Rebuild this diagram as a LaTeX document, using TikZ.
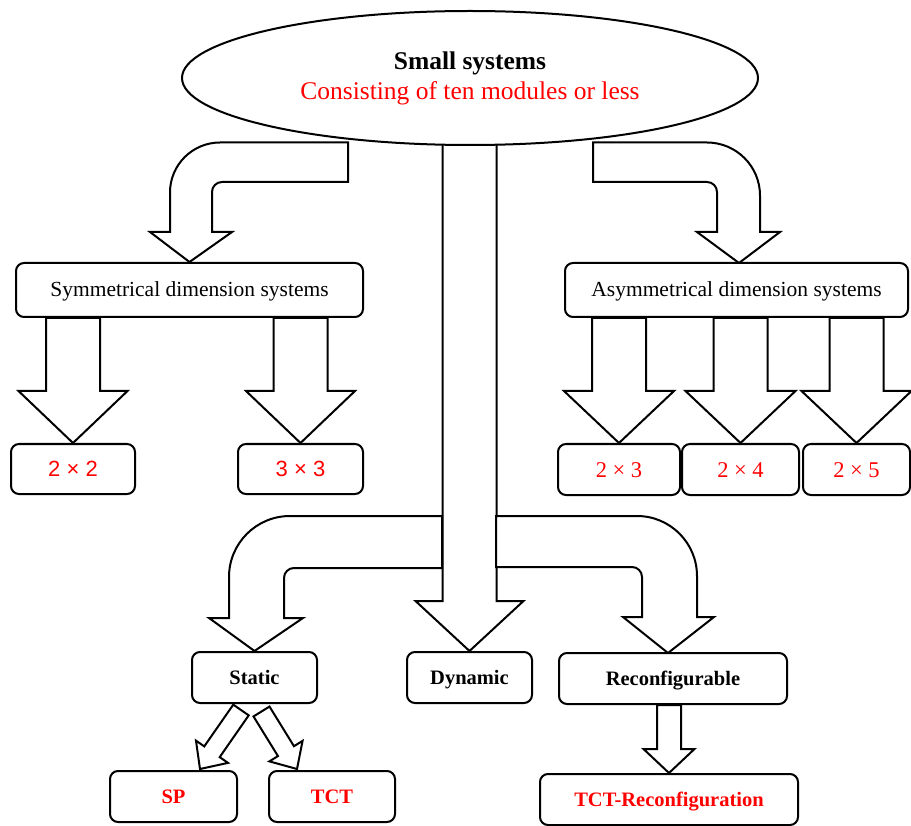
\documentclass[tikz,border=0pt]{standalone}
\usepackage{fontspec}
\setmainfont{Liberation Serif}
\setsansfont{Liberation Sans}
\usetikzlibrary{shapes.geometric,calc,backgrounds}
\definecolor{myred}{RGB}{255,0,0}
\tikzset{
  box/.style={draw, line width=2pt, rounded corners=8pt, fill=white, inner sep=0pt, align=center},
  farrow/.style={draw, line width=2pt, fill=white, line join=miter},
  ellnode/.style={draw, ellipse, line width=2pt, fill=white, inner sep=0pt, align=center,
    minimum width=576pt, minimum height=134pt},
  lblreg/.style={font=\fontsize{21.5}{26}\selectfont, text height=14pt, text depth=0pt},
  lblbold/.style={font=\fontsize{20.5}{25}\selectfont\bfseries, text height=14pt, text depth=0pt},
  lblred/.style={font=\fontsize{22.5}{27}\selectfont, text=myred, text height=15pt, text depth=0pt},
  lblredbold/.style={font=\fontsize{20.5}{25}\selectfont\bfseries, text=myred, text height=14pt, text depth=0pt},
}
\newcommand\fatarrow[5]{% start, tip, half shaft, half head, head length
  \path (#1) coordinate (fas);
  \path (#2) coordinate (fat);
  \path ($(fat)!#5!(fas)$) coordinate (fab);
  \draw[farrow] ($(fas)!#3!90:(fat)$) -- ($(fab)!#3!90:(fat)$) -- ($(fab)!#4!90:(fat)$)
    -- (fat) -- ($(fab)!#4!-90:(fat)$) -- ($(fab)!#3!-90:(fat)$) -- ($(fas)!#3!-90:(fat)$) -- cycle;}
\begin{document}
\begin{tikzpicture}[x=1pt, y=-1pt]
\useasboundingbox (0,0) rectangle (911,826);

% top ellipse
\node[ellnode, font=\fontsize{25.5}{30}\selectfont] (ell) at (470,78)
  {\textbf{Small systems}\\\textcolor{myred}{Consisting of ten modules or less}};

% second row
\node[box, lblreg, minimum width=347pt, minimum height=54pt] (sym) at (189.5,290) {Symmetrical dimension systems};
\node[box, lblreg, minimum width=343pt, minimum height=54pt] (asym) at (736.5,290) {Asymmetrical dimension systems};

% third row
\node[box, lblred, font=\fontsize{22}{26}\selectfont\sffamily, minimum width=124pt, minimum height=50pt] (b22) at (73,469) {2 × 2};
\node[box, lblred, font=\fontsize{22}{26}\selectfont\sffamily, minimum width=125pt, minimum height=50pt] (b33) at (300.5,469) {3 × 3};
\node[box, lblred, minimum width=122pt, minimum height=51pt] (b23) at (619,469.5) {2 × 3};
\node[box, lblred, minimum width=117pt, minimum height=51pt] (b24) at (740.5,469.5) {2 × 4};
\node[box, lblred, minimum width=107pt, minimum height=51pt] (b25) at (856.5,469.5) {2 × 5};

% fourth row
\node[box, lblbold, minimum width=125pt, minimum height=51pt] (static) at (254.5,677.5) {Static};
\node[box, lblbold, minimum width=125pt, minimum height=51pt] (dynamic) at (469.5,677.5) {Dynamic};
\node[box, lblbold, minimum width=228pt, minimum height=51pt] (reconf) at (673,678.5) {Reconfigurable};

% bottom row
\node[box, lblredbold, minimum width=127pt, minimum height=51pt] (sp) at (173.5,796.5) {SP};
\node[box, lblredbold, minimum width=126pt, minimum height=51pt] (tct) at (332,796.5) {TCT};
\node[box, lblredbold, minimum width=258pt, minimum height=51pt] (tctr) at (669,799.5) {TCT-Reconfiguration};

\begin{pgfonlayer}{background}
% central arrow
\fatarrow{dynamic.north |- ell.center}{dynamic.north}{27pt}{54pt}{50pt}
% branch to Static
\draw[farrow] (442,516) -- (290,516) arc[start angle=90, end angle=180, radius=61pt]
  -- (229,618) -- (209,618) -- (static.north) -- (303,618) -- (284,618) -- (284,578)
  arc[start angle=180, end angle=90, radius=10pt] -- (442,568) -- cycle;
% branch to Reconfigurable
\draw[farrow] (496,516) -- (637,516) arc[start angle=90, end angle=0, radius=60pt]
  -- (697,617) -- (714,617) -- (668,653) -- (623,617) -- (642,617) -- (642,577)
  arc[start angle=0, end angle=90, radius=10pt] -- (496,567) -- cycle;
% top-left curved arrow
\draw[farrow] (348,142.5) -- (220,142.5) arc[start angle=90, end angle=180, radius=50pt]
  -- (170,232) -- (150,232) -- (sym.north) -- (232,232) -- (212,232) -- (212,192)
  arc[start angle=180, end angle=90, radius=10pt] -- (348,182) -- cycle;
% top-right curved arrow
\draw[farrow] (593,142.5) -- (707,142.5) arc[start angle=90, end angle=0, radius=53pt]
  -- (760,232) -- (780,232) -- (739,263) -- (697,232) -- (717,232) -- (717,192)
  arc[start angle=0, end angle=90, radius=10pt] -- (593,182) -- cycle;
% symmetrical arrows
\fatarrow{b22.north |- sym.south}{b22.north}{27pt}{54.5pt}{52pt}
\fatarrow{b33.north |- sym.south}{b33.north}{27pt}{54.5pt}{52pt}
% asymmetrical arrows
\fatarrow{b23.north |- asym.south}{b23.north}{27pt}{55pt}{52pt}
\fatarrow{b24.north |- asym.south}{b24.north}{27pt}{55pt}{52pt}
\fatarrow{b25.north |- asym.south}{b25.north}{27pt}{55pt}{52pt}
% static arrows
\fatarrow{$(static.south)+(-13.5,6)$}{$(sp.north)+(26.5,-1)$}{9.4pt}{19.5pt}{21pt}
\fatarrow{$(static.south)+(7,7.5)$}{$(tct.north)+(-35,-1)$}{9.4pt}{19.5pt}{21pt}
% reconfigurable arrow
\fatarrow{reconf.south -| tctr.north}{tctr.north}{12pt}{25.5pt}{24pt}
\end{pgfonlayer}
\end{tikzpicture}
\end{document}
